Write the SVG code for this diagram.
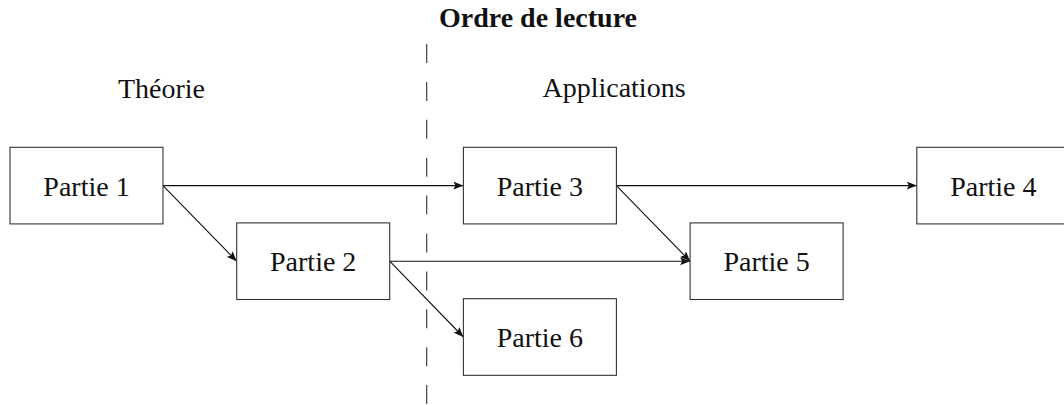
<svg xmlns="http://www.w3.org/2000/svg" width="1064" height="405" viewBox="0 0 1064 405">
<style>
.box{fill:#fff;stroke:#333;stroke-width:1.1}
.lbl{font-family:"Liberation Serif","Times New Roman",serif;font-size:28px;fill:#111;text-anchor:middle}
.ttl{font-family:"Liberation Serif","Times New Roman",serif;font-size:28px;font-weight:bold;fill:#111;text-anchor:middle}
.edge{stroke:#111;stroke-width:1.1;fill:none;marker-end:url(#ah)}
.sep{stroke:#333;stroke-width:1.1;stroke-dasharray:19 18.9;fill:none}
</style>
<defs>
<marker id="ah" viewBox="0 0 10 8" refX="10" refY="4" markerWidth="10" markerHeight="8" markerUnits="userSpaceOnUse" orient="auto">
<path d="M0,0 L10,4 L0,8 L2,4 Z" fill="#111"/>
</marker>
</defs>
<rect width="1064" height="405" fill="#fff"/>
<g id="labels">
<text class="ttl" x="538" y="27">Ordre de lecture</text>
<text class="lbl" x="161.5" y="98">Théorie</text>
<text class="lbl" x="614" y="97">Applications</text>
</g>
<line class="sep" x1="426.7" y1="44" x2="426.7" y2="405"/>
<g id="connectors">
<line class="edge" x1="163" y1="185.6" x2="463.4" y2="185.6"/>
<line class="edge" x1="163" y1="185.6" x2="236.7" y2="261.2"/>
<line class="edge" x1="616.4" y1="185.6" x2="916.8" y2="185.6"/>
<line class="edge" x1="616.4" y1="185.6" x2="690.1" y2="261.2"/>
<line class="edge" x1="389.7" y1="261.2" x2="690.1" y2="261.2"/>
<line class="edge" x1="389.7" y1="261.2" x2="463.4" y2="337"/>
</g>
<g id="partie1"><rect class="box" x="10" y="147.3" width="153" height="76.6"/><text class="lbl" x="86.5" y="195.6">Partie 1</text></g>
<g id="partie2"><rect class="box" x="236.7" y="222.9" width="153" height="76.6"/><text class="lbl" x="313.2" y="271.2">Partie 2</text></g>
<g id="partie3"><rect class="box" x="463.4" y="147.3" width="153" height="76.6"/><text class="lbl" x="539.9" y="195.6">Partie 3</text></g>
<g id="partie4"><rect class="box" x="916.8" y="147.3" width="153" height="76.6"/><text class="lbl" x="993.3" y="195.6">Partie 4</text></g>
<g id="partie5"><rect class="box" x="690.1" y="222.9" width="153" height="76.6"/><text class="lbl" x="766.6" y="271.2">Partie 5</text></g>
<g id="partie6"><rect class="box" x="463.4" y="298.7" width="153" height="76.6"/><text class="lbl" x="539.9" y="347">Partie 6</text></g>
</svg>
